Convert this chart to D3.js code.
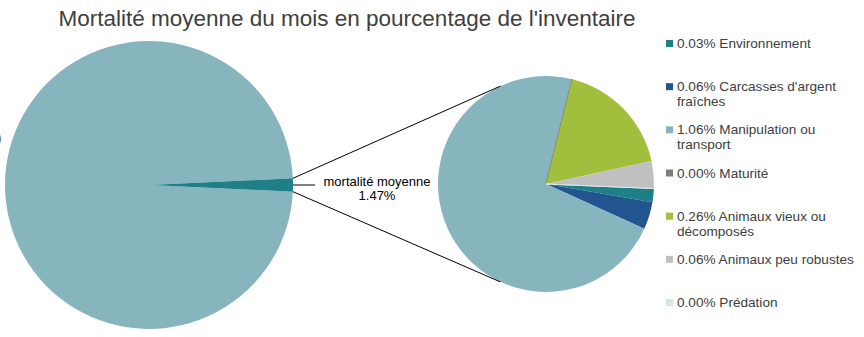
<!DOCTYPE html>
<html>
<head>
<meta charset="utf-8">
<script src="https://cdn.jsdelivr.net/npm/d3@7"></script>
<style>
  body { margin: 0; background: #fff; }
  svg { font-family: "Liberation Sans", Arial, sans-serif; }
</style>
</head>
<body>
<div id="chart"></div>
<script>
const title = "Mortalité moyenne du mois en pourcentage de l'inventaire";

// premier camembert : mortalité vs reste de l'inventaire
const mainLabels = ["autres", "mortalité moyenne"];
const mainValues = [98.53, 1.47];
const mainColors = ["#87b5bd", "#1f7f86"];

// détail de la mortalité (ordre de la légende)
const causes = ["Environnement", "Carcasses d'argent fraîches", "Manipulation ou transport",
  "Maturité", "Animaux vieux ou décomposés", "Animaux peu robustes", "Prédation"];
const causeValues = [0.03, 0.06, 1.06, 0.00, 0.26, 0.06, 0.00];
const causeColors = ["#1f7f86", "#22558f", "#87b5bd", "#7f7f7f", "#a1be3c", "#c0c0c0", "#d6e6e4"];

const width = 864, height = 337;
const fmt = d3.format(".2f");

const svg = d3.select("#chart")
  .append("svg")
  .attr("width", width)
  .attr("height", height);

// Titre
svg.append("text")
  .attr("x", 347)
  .attr("y", 26)
  .attr("text-anchor", "middle")
  .style("font-size", "22.5px")
  .style("fill", "#404040")
  .text(title);

// Grand camembert
const main = { cx: 149, cy: 185, r: 144 };
const mainSlice = mainValues[1] / d3.sum(mainValues) * 2 * Math.PI;
const mainPie = d3.pie().sort(null)
  .startAngle(Math.PI / 2 + mainSlice / 2)
  .endAngle(Math.PI / 2 + mainSlice / 2 + 2 * Math.PI);
const mainArc = d3.arc().innerRadius(0).outerRadius(main.r);

const g1 = svg.append("g").attr("transform", `translate(${main.cx},${main.cy})`);
g1.selectAll("path")
  .data(mainPie(mainValues))
  .enter()
  .append("path")
  .attr("d", mainArc)
  .attr("fill", (d, i) => mainColors[i]);

// étiquette du reste (coupée par le bord comme sur l'original)
g1.append("text")
  .attr("x", -main.cx + 1.5)
  .attr("y", -43)
  .attr("text-anchor", "end")
  .style("font-size", "12px")
  .style("fill", "#595959")
  .text(fmt(mainValues[0]) + "%)");

// Second camembert
const sub = { cx: 546, cy: 184, r: 108 };
const start = 92.4 * Math.PI / 180;
const subPie = d3.pie().sort(null).startAngle(start).endAngle(start + 2 * Math.PI);
const subArc = d3.arc().innerRadius(0).outerRadius(sub.r);

const g2 = svg.append("g").attr("transform", `translate(${sub.cx},${sub.cy})`);
g2.selectAll("path")
  .data(subPie(causeValues))
  .enter()
  .append("path")
  .attr("d", subArc)
  .attr("fill", (d, i) => causeColors[i])
  .attr("stroke", (d, i) => d.value === 0 ? causeColors[i] : "none")
  .attr("stroke-width", 1);

// Lignes de liaison
const a1 = Math.PI / 2 - mainSlice / 2, a2 = Math.PI / 2 + mainSlice / 2;
const pt = (c, ang) => [c.cx + c.r * Math.sin(ang), c.cy - c.r * Math.cos(ang)];
const t = -25 * Math.PI / 180, b = 205 * Math.PI / 180;
[[pt(main, a1), pt(sub, t)], [pt(main, a2), pt(sub, b)]].forEach(p => {
  svg.append("line")
    .attr("x1", p[0][0]).attr("y1", p[0][1])
    .attr("x2", p[1][0]).attr("y2", p[1][1])
    .attr("stroke", "#000")
    .attr("stroke-width", 1);
});

// étiquette du secteur mortalité
const tip = pt(main, Math.PI / 2);
svg.append("line")
  .attr("x1", tip[0]).attr("y1", tip[1])
  .attr("x2", tip[0] + 22).attr("y2", tip[1])
  .attr("stroke", "#000");
const lab = svg.append("text")
  .attr("text-anchor", "middle")
  .style("font-size", "13px")
  .style("fill", "#000");
lab.append("tspan").attr("x", 377).attr("y", 186).text(mainLabels[1]);
lab.append("tspan").attr("x", 377).attr("y", 200).text(fmt(mainValues[1]) + "%");

// Légende
const legY = d3.scaleLinear().domain([0, causes.length - 1]).range([48, 307]);
const leg = svg.append("g");
causes.forEach((c, i) => {
  const y = legY(i);
  leg.append("rect")
    .attr("x", 666).attr("y", y - 8)
    .attr("width", 7).attr("height", 7)
    .attr("fill", causeColors[i]);
  const txt = leg.append("text")
    .attr("x", 677).attr("y", y)
    .style("font-size", "13.6px")
    .style("fill", "#404040");
  const words = (fmt(causeValues[i]) + "% " + c).split(" ");
  let line = [], tspan = txt.append("tspan").attr("x", 677).attr("y", y), n = 0;
  words.forEach(w => {
    line.push(w);
    tspan.text(line.join(" "));
    if (tspan.node().getComputedTextLength() > 184 && line.length > 1) {
      line.pop();
      tspan.text(line.join(" "));
      line = [w];
      n++;
      tspan = txt.append("tspan").attr("x", 677).attr("y", y + n * 15).text(w);
    }
  });
});
</script>
</body>
</html>
